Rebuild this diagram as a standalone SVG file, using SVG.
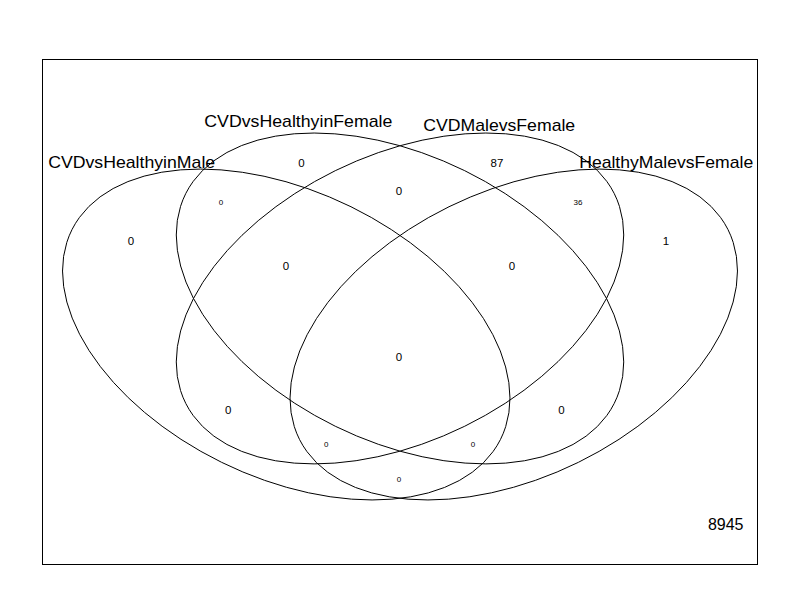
<svg xmlns="http://www.w3.org/2000/svg" width="800" height="600" viewBox="0 0 800 600">
<style>
.e{fill:none;stroke:#000;stroke-width:1;vector-effect:non-scaling-stroke}
text{font-family:"Liberation Sans",Arial,sans-serif;fill:#000;text-anchor:middle}
.lab{font-size:17px}
.big{font-size:11.5px}
.sm{font-size:8px}
.uni{font-size:16px}
</style>
<rect width="800" height="600" fill="#fff"/>
<rect x="42.5" y="59.5" width="715" height="505" fill="none" stroke="#000" stroke-width="1"/>
<g id="sets" transform="matrix(1.625,0,0,-1.2017,75,538.8)">
<g id="set1"><ellipse class="e" cx="0" cy="0" rx="162" ry="108" transform="translate(130,170) rotate(-45)"/></g>
<g id="set2"><ellipse class="e" cx="0" cy="0" rx="162" ry="108" transform="translate(200,200) rotate(-45)"/></g>
<g id="set3"><ellipse class="e" cx="0" cy="0" rx="162" ry="108" transform="translate(200,200) rotate(45)"/></g>
<g id="set4"><ellipse class="e" cx="0" cy="0" rx="162" ry="108" transform="translate(270,170) rotate(45)"/></g>
</g>
<g id="labels">
<text class="lab" x="131.7" y="168.3" textLength="167" lengthAdjust="spacingAndGlyphs">CVDvsHealthyinMale</text>
<text class="lab" x="298.3" y="126.5" textLength="188" lengthAdjust="spacingAndGlyphs">CVDvsHealthyinFemale</text>
<text class="lab" x="499.2" y="130.5" textLength="152" lengthAdjust="spacingAndGlyphs">CVDMalevsFemale</text>
<text class="lab" x="666.2" y="168.3" textLength="174" lengthAdjust="spacingAndGlyphs">HealthyMalevsFemale</text>
</g>
<g id="counts">
<text class="big" x="131" y="244.5">0</text>
<text class="big" x="301.5" y="167">0</text>
<text class="big" x="497" y="167">87</text>
<text class="big" x="666" y="245">1</text>
<text class="sm" x="221" y="205">0</text>
<text class="big" x="399" y="194.5">0</text>
<text class="sm" x="578" y="205">36</text>
<text class="big" x="286" y="269.5">0</text>
<text class="big" x="512" y="269.5">0</text>
<text class="big" x="399" y="361">0</text>
<text class="big" x="228.3" y="414">0</text>
<text class="big" x="561.5" y="414">0</text>
<text class="sm" x="326.3" y="447">0</text>
<text class="sm" x="473" y="447">0</text>
<text class="sm" x="399" y="482">0</text>
<text class="uni" x="725.7" y="529.5">8945</text>
</g>
</svg>
